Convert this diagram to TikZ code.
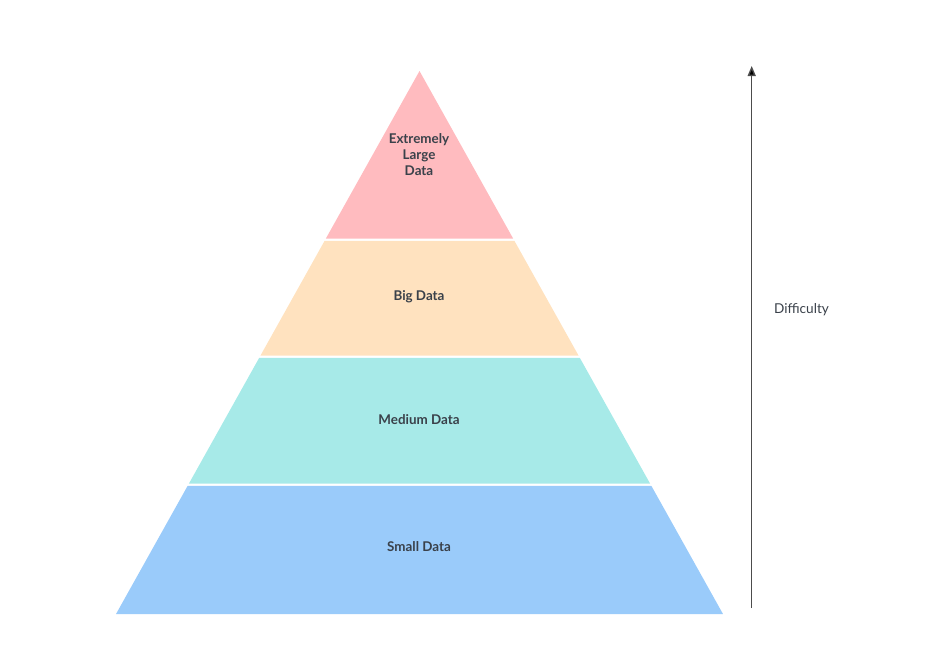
\documentclass[tikz,border=0pt]{standalone}
\usepackage{fontspec}
\setmainfont{Lato}
\usetikzlibrary{arrows.meta}
\definecolor{txt}{HTML}{3A414A}
\definecolor{layA}{HTML}{FFBBBF}
\definecolor{layB}{HTML}{FFE2BF}
\definecolor{layC}{HTML}{A7EAE8}
\definecolor{layD}{HTML}{9ACBFA}
\tikzset{
  layer/.style={draw=none},
  lbl/.style={font=\fontsize{13.4}{16}\selectfont\bfseries, text=txt, align=center, inner sep=0pt},
  axislbl/.style={font=\fontsize{13.6}{16}\selectfont, text=txt, inner sep=0pt},
  axis/.style={draw=black!70, line width=1.4pt, -{Triangle[length=10pt,width=8pt,fill=black]}},
}
\begin{document}
\begin{tikzpicture}[x=1pt,y=-1pt]
\useasboundingbox (0,0) rectangle (928,646);
% apex (419.5,71), base y=614, half-width 303.5 => slope 0.559
\def\cx{419.5}
\def\sl{0.5589}
\fill[layA] (\cx,71) -- ({\cx+\sl*(238.5-71)},238.5) -- ({\cx-\sl*(238.5-71)},238.5) -- cycle;
\fill[layB] ({\cx-\sl*(240.8-71)},240.8) -- ({\cx+\sl*(240.8-71)},240.8) -- ({\cx+\sl*(355.6-71)},355.6) -- ({\cx-\sl*(355.6-71)},355.6) -- cycle;
\fill[layC] ({\cx-\sl*(357.8-71)},357.8) -- ({\cx+\sl*(357.8-71)},357.8) -- ({\cx+\sl*(483.6-71)},483.6) -- ({\cx-\sl*(483.6-71)},483.6) -- cycle;
\fill[layD] ({\cx-\sl*(485.8-71)},485.8) -- ({\cx+\sl*(485.8-71)},485.8) -- ({\cx+\sl*(614-71)},614) -- ({\cx-\sl*(614-71)},614) -- cycle;
\node[lbl] (l1) at (419,155) {Extremely\\Large\\Data};
\node[lbl] (l2) at (419,297) {Big Data};
\node[lbl] (l3) at (419,420) {Medium Data};
\node[lbl] (l4) at (419,547) {Small Data};
\coordinate (a0) at (751.7,608);
\coordinate (a1) at (751.7,66);
\draw[axis] (a0) -- (a1);
\node[axislbl] (dif) at (801.5,310) {Difficulty};
\end{tikzpicture}
\end{document}
